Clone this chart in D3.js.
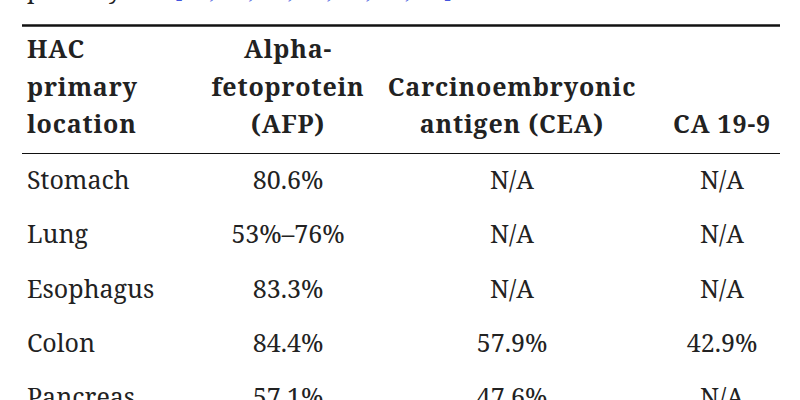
<!DOCTYPE html><html><head><meta charset="utf-8"><script src="https://cdn.jsdelivr.net/npm/d3@7"></script>
<style>body{margin:0;background:#fff}</style></head><body><svg id="c" width="800" height="400"></svg><script>
const headers=[["HAC","primary","location"],["Alpha-","fetoprotein","(AFP)"],["Carcinoembryonic","antigen (CEA)"],["CA 19-9"]];
const locations=["Stomach","Lung","Esophagus","Colon","Pancreas"];
const afp=["80.6%","53%–76%","83.3%","84.4%","57.1%"];
const cea=["N/A","N/A","N/A","57.9%","47.6%"];
const ca199=["N/A","N/A","N/A","42.9%","N/A"];
const svg=d3.select("#c");
const F="'Noto Serif','DejaVu Serif','Liberation Serif',serif";
svg.append("text").attr("x",27).attr("y",-2).attr("font-family",F).attr("font-size",24).attr("fill","#222").text("primary site ").append("tspan").attr("fill","#4455dd").text("[35, 36, 26, 27, 40, 38, 37].");
svg.append("line").attr("x1",22).attr("x2",780).attr("y1",25.5).attr("y2",25.5).attr("stroke","#111").attr("stroke-width",2.5);
svg.append("line").attr("x1",22).attr("x2",780).attr("y1",153.5).attr("y2",153.5).attr("stroke","#111").attr("stroke-width",1);
const cx=[27,288,512,722], anch=["start","middle","middle","middle"];
headers.forEach((h,i)=>{const n=h.length;h.forEach((t,j)=>{svg.append("text").attr("x",cx[i]).attr("y",133-(n-1-j)*37.5).attr("text-anchor",anch[i]).attr("font-family",F).attr("font-weight","bold").attr("font-size",25).attr("letter-spacing",0.8).attr("fill","#222").text(t);});});
const y=d3.scalePoint().domain(locations).range([189,406]);
const cols=[locations,afp,cea,ca199];
cols.forEach((c,i)=>c.forEach((t,r)=>svg.append("text").attr("x",cx[i]).attr("y",y(locations[r])).attr("text-anchor",anch[i]).attr("font-family",F).attr("font-size",25).attr("fill","#222").text(t)));
</script></body></html>
